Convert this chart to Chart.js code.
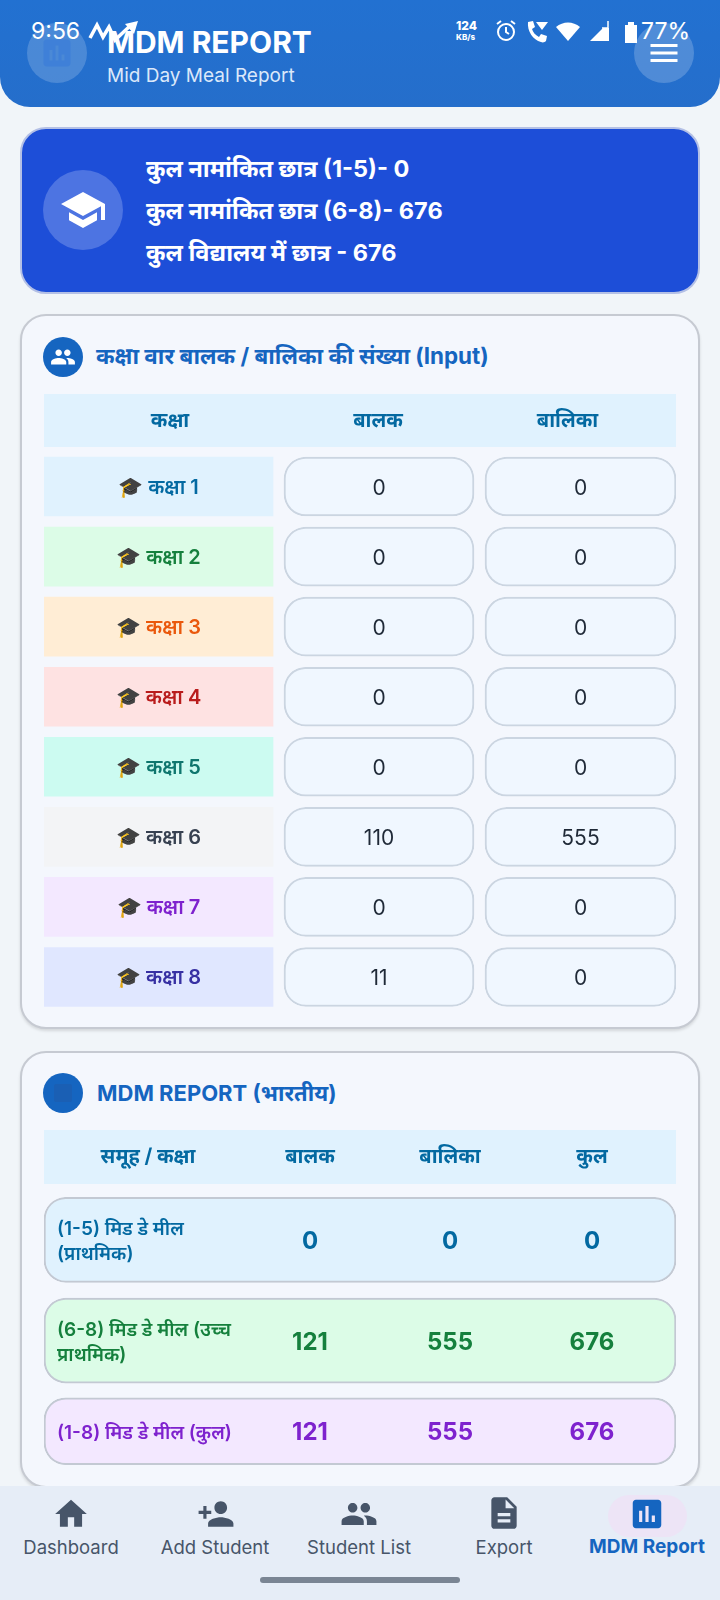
<!DOCTYPE html>
<html>
<head>
<meta charset="utf-8">
<script src="https://cdn.jsdelivr.net/npm/chart.js@4"></script>
<style>
html, body { margin: 0; padding: 0; }
body { width: 720px; height: 1600px; position: relative; overflow: hidden; background: #f1f5f9; font-family: Inter, "Noto Sans", sans-serif; }
.abs { position: absolute; }
.txt { position: absolute; white-space: nowrap; line-height: 1; }
#appbar { left: 0; top: 0; width: 720px; height: 107px; background: linear-gradient(180deg, #2271d1, #256ecb); border-radius: 0 0 30px 30px; }
.round { position: absolute; border-radius: 50%; display: flex; align-items: center; justify-content: center; }
#totals { left: 20px; top: 127px; width: 676px; height: 163px; background: #1d4ed8; border: 2px solid #b4c0e6; border-radius: 26px; }
.card { position: absolute; left: 20px; width: 680px; background: #f4f7fd; border: 2px solid #c6cad2; border-radius: 26px; box-sizing: border-box; box-shadow: 0 2px 3px rgba(0,0,0,.12); }
canvas { position: absolute; left: 44px; display: block; }
#nav { left: 0; top: 1486px; width: 720px; height: 114px; background: #e6edf7; }
.navlabel { position: absolute; top: 1537px; font-size: 18.500px; color: #475569; transform: translateX(-50%); white-space: nowrap; line-height: 1.1; }
svg { display: block; }
</style>
</head>
<body>
<div class="abs" id="appbar"></div>
<div class="round" style="left:27px;top:23px;width:60px;height:60px;background:rgba(255,255,255,.18)">
  <svg width="36" height="36" viewBox="0 0 24 24"><path fill="#3f80d8" d="M19 3H5c-1.100 0-2 .9-2 2v14c0 1.100.9 2 2 2h14c1.100 0 2-.9 2-2V5c0-1.100-.9-2-2-2zM9 17H7v-7h2v7zm4 0h-2V7h2v10zm4 0h-2v-4h2v4z"/></svg>
</div>
<div class="round" style="left:634px;top:23px;width:60px;height:60px;background:rgba(255,255,255,.2)">
  <svg width="36" height="36" viewBox="0 0 24 24"><path fill="#fff" d="M3 18h18v-2H3v2zm0-5h18v-2H3v2zm0-7v2h18V6H3z"/></svg>
</div>
<div class="txt" style="left:31px;top:20px;font-size:23px;color:#fff">9:56</div>
<svg class="abs" style="left:88px;top:20px" width="62" height="26" viewBox="0 0 62 26"><path fill="none" stroke="#fff" stroke-width="3.500" d="M2 18 L9 5 L15 17 L21 7 L27 20 L42 6"/><path fill="#fff" d="M37 4 L50 1 L46 14z"/></svg>
<div class="txt" style="left:107px;top:27px;font-size:30px;font-weight:700;color:#fff">MDM REPORT</div>
<div class="txt" style="left:107px;top:66px;font-size:19px;color:#dbe8fa">Mid Day Meal Report</div>
<div class="txt" style="left:456px;top:20px;font-size:12px;font-weight:800;color:#fff">124</div>
<div class="txt" style="left:456px;top:33px;font-size:8px;font-weight:800;color:#fff">KB/s</div>
<svg class="abs" style="left:494px;top:19px" width="24" height="24" viewBox="0 0 24 24"><circle cx="12" cy="13" r="8" fill="none" stroke="#fff" stroke-width="2"/><path fill="none" stroke="#fff" stroke-width="2" d="M12 8v5l3 2M3 5l4-3M21 5l-4-3"/></svg>
<svg class="abs" style="left:525px;top:19px" width="28" height="26" viewBox="0 0 28 26"><path fill="#fff" d="M3 3l5-1 2 6-3 2c1 3 3 6 7 8l2-3 6 2-1 5c-1 1-3 2-5 1C8 21 2 12 3 3z"/><path fill="#fff" d="M11 3h12l-6 8z"/></svg>
<svg class="abs" style="left:555px;top:21px" width="26" height="22" viewBox="0 0 26 22"><path fill="#fff" d="M13 20L1 6c7-6 17-6 24 0z"/></svg>
<svg class="abs" style="left:589px;top:19px" width="21" height="24" viewBox="0 0 21 24"><path fill="#fff" d="M20 22H1L14 9h6z"/><path fill="none" stroke="#fff" stroke-width="1.500" d="M19 2v7L13 9"/></svg>
<svg class="abs" style="left:624px;top:20px" width="16" height="24" viewBox="0 0 16 24"><path fill="#fff" d="M1 5h3V2h6v3h3v18H1z"/></svg>
<div class="txt" style="left:641px;top:20px;font-size:23px;color:#fff">77%</div>

<div class="abs" id="totals"></div>
<div class="round" style="left:43px;top:170px;width:80px;height:80px;background:#4d74e2">
  <svg width="48" height="48" viewBox="0 0 24 24"><path fill="#fff" d="M5 13.180v4L12 21l7-3.820v-4L12 17l-7-3.820zM12 3L1 9l11 6 9-4.910V17h2V9L12 3z"/></svg>
</div>
<div class="txt" style="left:146px;top:157px;font-size:23.500px;font-weight:700;color:#fff">कुल नामांकित छात्र (1-5)- 0</div>
<div class="txt" style="left:146px;top:199px;font-size:23.500px;font-weight:700;color:#fff">कुल नामांकित छात्र (6-8)- 676</div>
<div class="txt" style="left:146px;top:241px;font-size:23.500px;font-weight:700;color:#fff">कुल विद्यालय में छात्र - 676</div>

<div class="card" style="top:314px;height:715px"></div>
<div class="round" style="left:43px;top:337px;width:40px;height:40px;background:#1565c0">
  <svg width="26" height="26" viewBox="0 0 24 24"><path fill="#fff" d="M16 11c1.660 0 2.990-1.340 2.990-3S17.660 5 16 5c-1.660 0-3 1.340-3 3s1.340 3 3 3zm-8 0c1.660 0 2.990-1.340 2.990-3S9.660 5 8 5C6.340 5 5 6.340 5 8s1.340 3 3 3zm0 2c-2.330 0-7 1.170-7 3.500V19h14v-2.500c0-2.330-4.670-3.500-7-3.500zm8 0c-.29 0-.62.020-.97.050 1.160.84 1.970 1.970 1.970 3.450V19h6v-2.500c0-2.330-4.670-3.500-7-3.500z"/></svg>
</div>
<div class="txt" style="left:96px;top:345px;font-size:22.400px;font-weight:700;color:#1565c0">कक्षा वार बालक / बालिका की संख्या (Input)</div>
<canvas id="classChart" width="632" height="618" style="top:394px"></canvas>

<div class="card" style="top:1051px;height:437px"></div>
<div class="round" style="left:43px;top:1073px;width:40px;height:40px;background:#1565c0">
  <svg width="24" height="24" viewBox="0 0 24 24"><path fill="#1a5fb4" d="M19 3H5c-1.100 0-2 .9-2 2v14c0 1.100.9 2 2 2h14c1.100 0 2-.9 2-2V5c0-1.100-.9-2-2-2z"/></svg>
</div>
<div class="txt" style="left:97px;top:1082px;font-size:22px;font-weight:700;color:#1565c0">MDM REPORT (भारतीय)</div>
<canvas id="groupChart" width="632" height="336" style="top:1130px"></canvas>

<div class="abs" id="nav"></div>
<div class="abs" style="left:608px;top:1495px;width:79px;height:42px;border-radius:21px;background:#ede4f6"></div>
<svg class="abs" style="left:52px;top:1495px" width="38" height="38" viewBox="0 0 24 24"><path fill="#475569" d="M10 20v-6h4v6h5v-8h3L12 3 2 12h3v8z"/></svg>
<svg class="abs" style="left:197px;top:1495px" width="38" height="38" viewBox="0 0 24 24"><path fill="#475569" d="M15 12c2.210 0 4-1.790 4-4s-1.790-4-4-4-4 1.790-4 4 1.790 4 4 4zm-9-2V7H4v3H1v2h3v3h2v-3h3v-2H6zm9 4c-2.670 0-8 1.340-8 4v2h16v-2c0-2.660-5.330-4-8-4z"/></svg>
<svg class="abs" style="left:340px;top:1495px" width="38" height="38" viewBox="0 0 24 24"><path fill="#475569" d="M16 11c1.660 0 2.990-1.340 2.990-3S17.660 5 16 5c-1.660 0-3 1.340-3 3s1.340 3 3 3zm-8 0c1.660 0 2.990-1.340 2.990-3S9.660 5 8 5C6.340 5 5 6.340 5 8s1.340 3 3 3zm0 2c-2.330 0-7 1.170-7 3.500V19h14v-2.500c0-2.330-4.670-3.500-7-3.500zm8 0c-.29 0-.62.020-.97.050 1.160.84 1.970 1.970 1.970 3.450V19h6v-2.500c0-2.330-4.670-3.500-7-3.500z"/></svg>
<svg class="abs" style="left:485px;top:1494px" width="38" height="38" viewBox="0 0 24 24"><path fill="#475569" d="M14 2H6c-1.100 0-1.990.9-1.990 2L4 20c0 1.100.89 2 1.990 2H18c1.100 0 2-.9 2-2V8l-6-6zm2 16H8v-2h8v2zm0-4H8v-2h8v2zm-3-5V3.500L18.500 9H13z"/></svg>
<svg class="abs" style="left:628px;top:1495px" width="38" height="38" viewBox="0 0 24 24"><path fill="#1565c0" d="M19 3H5c-1.100 0-2 .9-2 2v14c0 1.100.9 2 2 2h14c1.100 0 2-.9 2-2V5c0-1.100-.9-2-2-2zM9 17H7v-7h2v7zm4 0h-2V7h2v10zm4 0h-2v-4h2v4z"/></svg>
<div class="navlabel" style="left:71px">Dashboard</div>
<div class="navlabel" style="left:215px">Add Student</div>
<div class="navlabel" style="left:359px">Student List</div>
<div class="navlabel" style="left:504px">Export</div>
<div class="navlabel" style="left:647px;font-size:19px;font-weight:700;color:#1565c0">MDM Report</div>
<div class="abs" style="left:260px;top:1577px;width:200px;height:6px;border-radius:3px;background:#7a8594"></div>

<script>
// class-wise table data
const classNames = ['कक्षा 1', 'कक्षा 2', 'कक्षा 3', 'कक्षा 4', 'कक्षा 5', 'कक्षा 6', 'कक्षा 7', 'कक्षा 8'];
const classBoys = [0, 0, 0, 0, 0, 110, 0, 11];
const classGirls = [0, 0, 0, 0, 0, 555, 0, 0];
const classHeaders = ['कक्षा', 'बालक', 'बालिका'];

// report table data
const groupNames = ['(1-5) मिड डे मील (प्राथमिक)', '(6-8) मिड डे मील (उच्च प्राथमिक)', '(1-8) मिड डे मील (कुल)'];
const groupBoys = [0, 121, 121];
const groupGirls = [0, 555, 555];
const groupTotals = [0, 676, 676];
const groupHeaders = ['समूह / कक्षा', 'बालक', 'बालिका', 'कुल'];

// styles
const classFills = ['#e0f2fe', '#dcfce7', '#ffedd5', '#fee2e2', '#ccfbf1', '#f3f4f6', '#f3e8ff', '#e0e7ff'];
const classInks = ['#0369a1', '#15803d', '#ea580c', '#b91c1c', '#0f766e', '#374151', '#7e22ce', '#3730a3'];
const groupFills = ['#e0f2fe', '#dcfce7', '#f3e8ff'];
const groupInks = ['#0369a1', '#15803d', '#7e22ce'];
const FONT = 'Inter, "Noto Sans", sans-serif';

// table layout, in table pixels
const classColumns = [[0, 229], [240, 430], [441, 632]];
const classHeaderTicks = [126, 334, 523.5];
const groupHeaderTicks = [104, 266, 406, 548];
const groupSlots = [[0, 85], [100, 185], [199, 266]];

Chart.defaults.animation = false;
Chart.defaults.responsive = false;
Chart.defaults.devicePixelRatio = 1;

function headerAxis(max, ticks, labels, height, padding) {
    return {
        type: 'linear', position: 'top', min: 0, max: max,
        grid: { display: false }, border: { display: false },
        afterBuildTicks: axis => { axis.ticks = ticks.map(v => ({ value: v })); },
        afterFit: axis => { axis.height = height; },
        ticks: {
            autoSkip: false, maxRotation: 0, padding: padding,
            color: '#0369a1', font: { family: FONT, size: 20, weight: '700' },
            callback: (v, i) => labels[i]
        }
    };
}

// light band behind the header axis
const headerBand = {
    id: 'headerBand',
    beforeDraw(chart, args, opts) {
        chart.ctx.fillStyle = '#e0f2fe';
        chart.ctx.fillRect(0, 0, chart.width, opts.height);
    }
};

function drawText(ctx, text, x, y, font, color, align) {
    ctx.font = font;
    ctx.fillStyle = color;
    ctx.textAlign = align || 'center';
    ctx.textBaseline = 'middle';
    ctx.fillText(text, x, y);
}

const classText = {
    id: 'classText',
    afterDatasetsDraw(chart) {
        const ctx = chart.ctx;
        ctx.save();
        classNames.forEach((name, i) => {
            const c = chart.getDatasetMeta(0).data[i].getCenterPoint();
            drawText(ctx, '🎓 ' + name, c.x, c.y + 1, '600 20px ' + FONT, classInks[i]);
            const b = chart.getDatasetMeta(1).data[i].getCenterPoint();
            drawText(ctx, classBoys[i], b.x, b.y + 2, '400 21px ' + FONT, '#1f2937');
            const g = chart.getDatasetMeta(2).data[i].getCenterPoint();
            drawText(ctx, classGirls[i], g.x, g.y + 2, '400 21px ' + FONT, '#1f2937');
        });
        ctx.restore();
    }
};

function wrapLines(ctx, text, maxWidth) {
    const lines = [];
    let line = '';
    text.split(' ').forEach(word => {
        const next = line ? line + ' ' + word : word;
        if (line && ctx.measureText(next).width > maxWidth) {
            lines.push(line);
            line = word;
        } else {
            line = next;
        }
    });
    lines.push(line);
    return lines;
}

const groupText = {
    id: 'groupText',
    afterDatasetsDraw(chart) {
        const ctx = chart.ctx;
        const x = chart.scales.x;
        ctx.save();
        groupNames.forEach((name, i) => {
            const c = chart.getDatasetMeta(i).data[0].getCenterPoint();
            ctx.font = '600 19px ' + FONT;
            const lines = wrapLines(ctx, name, 185);
            lines.forEach((line, k) => {
                const y = c.y + 2 + (k - (lines.length - 1) / 2) * 25;
                drawText(ctx, line, x.getPixelForValue(13), y, '600 19px ' + FONT, groupInks[i], 'left');
            });
            [groupBoys, groupGirls, groupTotals].forEach((col, j) => {
                drawText(ctx, col[i], x.getPixelForValue(groupHeaderTicks[j + 1]), c.y + 2, '700 24px ' + FONT, groupInks[i]);
            });
        });
        ctx.restore();
    }
};

new Chart(document.getElementById('classChart'), {
    type: 'bar',
    data: {
        labels: classNames,
        datasets: [
            { data: classNames.map(() => classColumns[0]), backgroundColor: classFills, borderWidth: 0, grouped: false },
            { data: classNames.map(() => classColumns[1]), backgroundColor: '#f0f7ff', borderColor: '#cbd5e1', borderWidth: 2, borderRadius: 22, borderSkipped: false, grouped: false },
            { data: classNames.map(() => classColumns[2]), backgroundColor: '#f0f7ff', borderColor: '#cbd5e1', borderWidth: 2, borderRadius: 22, borderSkipped: false, grouped: false }
        ]
    },
    options: {
        indexAxis: 'y',
        layout: { padding: 0 },
        datasets: { bar: { barThickness: 59 } },
        plugins: { legend: { display: false }, tooltip: { enabled: false }, headerBand: { height: 53 } },
        scales: {
            x: headerAxis(632, classHeaderTicks, classHeaders, 57.5, 11),
            y: { type: 'category', display: false }
        }
    },
    plugins: [headerBand, classText]
});

new Chart(document.getElementById('groupChart'), {
    type: 'bar',
    data: {
        datasets: groupNames.map((name, i) => ({
            label: name,
            data: [{ x: [0, 632], y: (groupSlots[i][0] + groupSlots[i][1]) / 2 }],
            barThickness: groupSlots[i][1] - groupSlots[i][0],
            backgroundColor: groupFills[i],
            borderColor: '#c3c9d3',
            borderWidth: 2,
            borderRadius: 22,
            borderSkipped: false,
            grouped: false
        }))
    },
    options: {
        indexAxis: 'y',
        layout: { padding: 0 },
        plugins: { legend: { display: false }, tooltip: { enabled: false }, headerBand: { height: 54 } },
        scales: {
            x: headerAxis(632, groupHeaderTicks, groupHeaders, 67, 20),
            y: { type: 'linear', offset: false, reverse: true, min: 0, max: 267, display: false }
        }
    },
    plugins: [headerBand, groupText]
});
</script>
</body>
</html>
